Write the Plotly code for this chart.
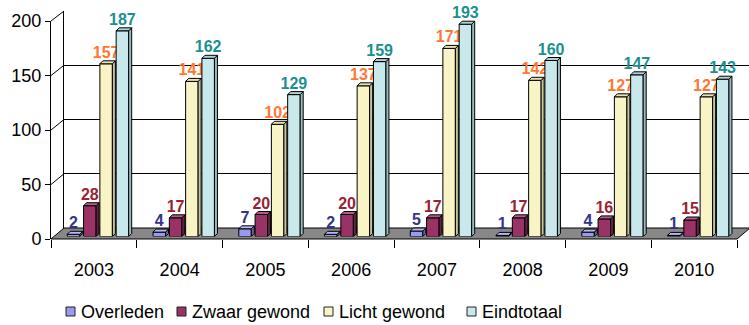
import plotly.graph_objects as go

# ---- data -------------------------------------------------------------
years = ["2003", "2004", "2005", "2006", "2007", "2008", "2009", "2010"]
overleden = [2, 4, 7, 2, 5, 1, 4, 1]
zwaar_gewond = [28, 17, 20, 20, 17, 17, 16, 15]
licht_gewond = [157, 141, 102, 137, 171, 142, 127, 127]
eindtotaal = [187, 162, 129, 159, 193, 160, 147, 143]
y_ticks = [0, 50, 100, 150, 200]

series = [
    # name, values, front colour, side colour, top colour, label colour
    ("Overleden", overleden, "#9999ee", "#6666aa", "#b8b8f0", "#333388"),
    ("Zwaar gewond", zwaar_gewond, "#993366", "#662244", "#b35c85", "#992233"),
    ("Licht gewond", licht_gewond, "#f8f4c6", "#c8c49a", "#e6e2b4", "#ff7733"),
    ("Eindtotaal", eindtotaal, "#c8e8ec", "#98bcc0", "#aed2d6", "#1a9090"),
]

# ---- geometry (pixels of a 749 x 325 canvas) ---------------------------
W, H = 749, 325
FONT = "Arial, Liberation Sans, sans-serif"
YMAX = 200

# front plane (axis labels), back wall, and the plane the bars stand in
front = dict(x0=51, x1=737, y0=239, y1=21)
back = dict(x0=64, x1=750, y0=228, y1=11)
bars = dict(x0=57, x1=743, y0=236.5, y1=16.5)

# custom legend: left edge of each swatch, vertical centre, swatch size
legend_x = [66, 177, 324, 467]
legend_y = 311.5
swatch = 9


def xdom(p):
    return [p["x0"] / W, min(p["x1"] / W, 1.0)]


def ydom(p):
    return [(H - p["y0"]) / H, (H - p["y1"]) / H]


def to_paper(px, py):
    return px / W, (H - py) / H


def plane_y(p, v):
    return p["y0"] + (p["y1"] - p["y0"]) * v / YMAX


n = len(years)
cat_pos = list(range(n))
boundaries = [i - 0.5 for i in range(n + 1)]
px_per_cat = (bars["x1"] - bars["x0"]) / n
px_per_unit = (bars["y0"] - bars["y1"]) / YMAX

slot = 0.19           # spacing of the bars inside a group (category units)
bar_w = 0.146         # width of a bar's front face
bar_dx = 3 / px_per_cat     # depth of each bar, horizontal part
bar_dy = 3 / px_per_unit    # depth of each bar, vertical part

fig = go.Figure()

# invisible traces so the back-wall and front-axis subplots are drawn
fig.add_trace(go.Scatter(x=[0], y=[None], xaxis="x", yaxis="y",
                         showlegend=False, hoverinfo="skip"))
fig.add_trace(go.Scatter(x=cat_pos, y=[None] * n, xaxis="x3", yaxis="y3",
                         showlegend=False, hoverinfo="skip"))

shapes = []
annotations = []

# floor of the chart
fl = [to_paper(front["x0"], front["y0"]), to_paper(front["x1"], front["y0"]),
      to_paper(back["x1"], back["y0"]), to_paper(back["x0"], back["y0"])]
path = "M " + " L ".join(f"{a:.5f},{b:.5f}" for a, b in fl) + " Z"
shapes.append(dict(type="path", path=path, xref="paper", yref="paper",
                   fillcolor="#888888", line=dict(color="black", width=1),
                   layer="below"))

# side wall: diagonal lines joining front ticks to back gridlines
for v in y_ticks[1:]:
    xa, ya = to_paper(front["x0"], plane_y(front, v))
    xb, yb = to_paper(back["x0"], plane_y(back, v))
    shapes.append(dict(type="line", x0=xa, y0=ya, x1=xb, y1=yb,
                       xref="paper", yref="paper",
                       line=dict(color="black", width=1), layer="below"))

# bars: front faces as traces, sides and tops as shapes
for k, (name, vals, col, side, top, lab) in enumerate(series):
    off = -0.38 + slot * k
    fig.add_trace(go.Bar(
        name=name, x=cat_pos, y=vals, xaxis="x2", yaxis="y2",
        offset=off, width=bar_w,
        marker=dict(color=col, line=dict(color="black", width=1)),
        text=vals, texttemplate="<b>%{text}</b>", textposition="outside",
        constraintext="none", cliponaxis=False,
        textfont=dict(family=FONT, size=16, color=lab),
        hoverinfo="skip", showlegend=False,
    ))
    for i, v in enumerate(vals):
        x0 = i + off
        x1 = x0 + bar_w
        side_path = (f"M {x1},0 L {x1},{v} L {x1 + bar_dx},{v + bar_dy} "
                     f"L {x1 + bar_dx},{bar_dy} Z")
        top_path = (f"M {x0},{v} L {x1},{v} L {x1 + bar_dx},{v + bar_dy} "
                    f"L {x0 + bar_dx},{v + bar_dy} Z")
        for pth, fc in ((side_path, side), (top_path, top)):
            shapes.append(dict(type="path", path=pth, xref="x2", yref="y2",
                               fillcolor=fc,
                               line=dict(color="black", width=1),
                               layer="above"))

    # legend entry: swatch plus label
    sx = legend_x[k]
    ax0, ay0 = to_paper(sx, legend_y - swatch / 2)
    ax1, ay1 = to_paper(sx + swatch, legend_y + swatch / 2)
    shapes.append(dict(type="rect", x0=ax0, x1=ax1, y0=ay0, y1=ay1,
                       xref="paper", yref="paper", fillcolor=col,
                       line=dict(color="#222222", width=1), layer="above"))
    tx, ty = to_paper(sx + swatch + 4, legend_y)
    annotations.append(dict(text=name, x=tx, y=ty, xref="paper",
                            yref="paper", xanchor="left", yanchor="middle",
                            showarrow=False, font=dict(size=18)))

no_grid = dict(showgrid=False, zeroline=False, fixedrange=True)

fig.update_layout(
    width=W, height=H, autosize=False,
    margin=dict(l=0, r=0, t=0, b=0, pad=0, autoexpand=False),
    paper_bgcolor="white", plot_bgcolor="rgba(0,0,0,0)",
    font=dict(family=FONT, size=18, color="black"),
    barmode="overlay", showlegend=False,
    # back wall with its gridlines
    xaxis=dict(domain=xdom(back), range=[0, 1], visible=False,
               anchor="y", **no_grid),
    yaxis=dict(domain=ydom(back), range=[0, YMAX], tickvals=y_ticks,
               showgrid=True, gridcolor="black", gridwidth=1,
               showline=True, linecolor="black", linewidth=1,
               showticklabels=False, ticks="", zeroline=False,
               fixedrange=True, anchor="x"),
    # plane of the bars
    xaxis2=dict(domain=xdom(bars), range=[-0.5, n - 0.5], anchor="y2",
                visible=False, **no_grid),
    yaxis2=dict(domain=ydom(bars), range=[0, YMAX], anchor="x2",
                visible=False, **no_grid),
    # front plane carrying the tick labels; tick marks between the years,
    # invisible major ticks keep the year labels clear of the floor
    xaxis3=dict(domain=xdom(front), range=[-0.5, n - 0.5],
                tickvals=cat_pos, ticktext=years, ticks="outside",
                ticklen=14, tickcolor="rgba(0,0,0,0)",
                minor=dict(tickvals=boundaries, ticks="outside", ticklen=8,
                           tickcolor="black", showgrid=False),
                showline=False, tickfont=dict(size=18), anchor="y3",
                **no_grid),
    yaxis3=dict(domain=ydom(front), range=[0, YMAX], tickvals=y_ticks,
                ticks="outside", ticklen=5, tickcolor="black",
                showline=True, linecolor="black", linewidth=1,
                tickfont=dict(size=18), anchor="x3", **no_grid),
    shapes=shapes,
    annotations=annotations,
)

fig.write_html("out.html", config={"displayModeBar": False})
